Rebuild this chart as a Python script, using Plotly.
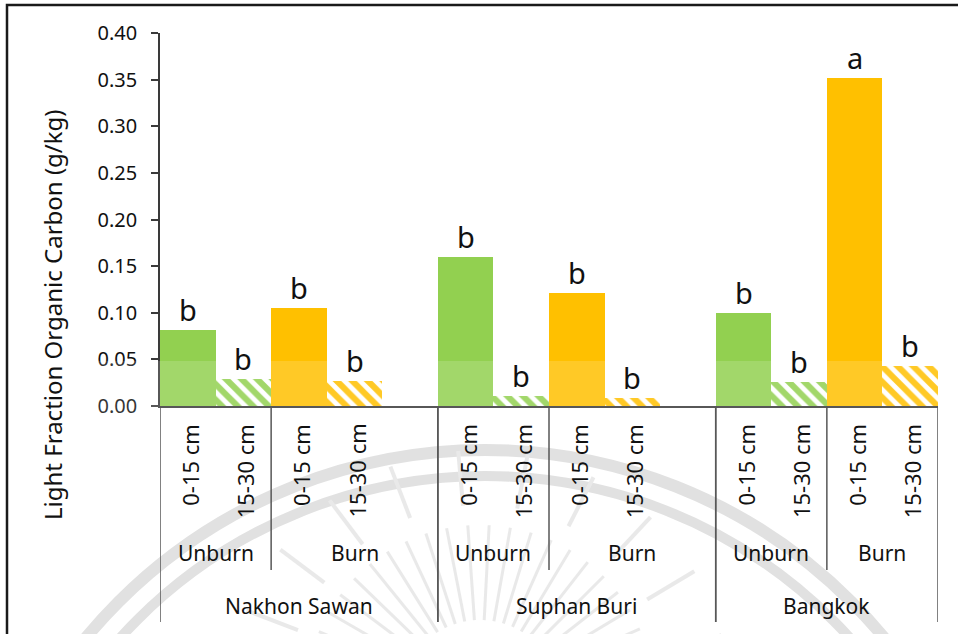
import numpy as np
import plotly.graph_objects as go

# ---------------- data ----------------
locations = ["Nakhon Sawan", "Suphan Buri", "Bangkok"]
treatments = ["Unburn", "Burn"]
depths = ["0-15 cm", "15-30 cm"]

unburn_0_15 = [0.081, 0.160, 0.100]
unburn_15_30 = [0.029, 0.011, 0.026]
burn_0_15 = [0.105, 0.121, 0.352]
burn_15_30 = [0.027, 0.009, 0.043]

letters_unburn_0_15 = ["b", "b", "b"]
letters_unburn_15_30 = ["b", "b", "b"]
letters_burn_0_15 = ["b", "b", "a"]
letters_burn_15_30 = ["b", "b", "b"]

y_ticks = [0.00, 0.05, 0.10, 0.15, 0.20, 0.25, 0.30, 0.35, 0.40]
y_title = "Light Fraction Organic Carbon (g/kg)"

# ---------------- styling / geometry ----------------
GREEN = "#92D050"
ORANGE = "#FFC000"
LINE = "#3a3a3a"
TXT = "#111111"
FONT = "Noto Sans"

W, H = 958, 634
ML, MR, MT, MB = 160, 20, 33, 228
PW, PH = W - ML - MR, H - MT - MB
Y0PX = MT + PH


def pxx(p):
    return (p - ML) / PW


def pxy(p):
    return (Y0PX - p) / PH


GROUP = 5  # 4 bars + 1 blank category per location


def pos(loc, trt, dep):
    return loc * GROUP + trt * 2 + dep


series = [
    (0, 0, unburn_0_15, letters_unburn_0_15, GREEN, False),
    (0, 1, unburn_15_30, letters_unburn_15_30, GREEN, True),
    (1, 0, burn_0_15, letters_burn_0_15, ORANGE, False),
    (1, 1, burn_15_30, letters_burn_15_30, ORANGE, True),
]

fig = go.Figure()
annotations = []
shapes = []

for trt, dep, vals, lets, col, hatched in series:
    xs = [pos(i, trt, dep) for i in range(len(locations))]
    if hatched:
        marker = dict(color="white", line=dict(width=0),
                      pattern=dict(shape="\\", fgcolor=col, bgcolor="white",
                                   fgopacity=1, size=11, solidity=0.55,
                                   fillmode="replace"))
    else:
        marker = dict(color=col, line=dict(width=0))
    fig.add_trace(go.Bar(x=xs, y=vals, width=1.0, marker=marker,
                         showlegend=False, hoverinfo="skip"))
    for x, v, l in zip(xs, vals, lets):
        annotations.append(dict(x=x, y=v, xref="x", yref="y", text=l,
                                showarrow=False, yanchor="bottom", yshift=-1,
                                font=dict(family=FONT, size=29, color=TXT)))

# ---------------- watermark (behind) ----------------
wm = "rgb(220,220,220)"
cx, cy = 485, 968
for r, w in [(518, 12), (492, 10)]:
    shapes.append(dict(type="circle", xref="paper", yref="paper",
                       xsizemode="pixel", ysizemode="pixel",
                       xanchor=pxx(cx), yanchor=pxy(cy),
                       x0=-r, x1=r, y0=-r, y1=r,
                       line=dict(color=wm, width=w), layer="below"))
rcx, rcy = 480, 700
wm2 = "rgb(230,230,230)"
for ang in np.arange(24, 158, 7):
    a = np.deg2rad(ang)
    r1, r2 = 80, 175
    shapes.append(dict(type="line", xref="paper", yref="paper",
                       x0=pxx(rcx + r1 * np.cos(a)), y0=pxy(rcy - r1 * np.sin(a)),
                       x1=pxx(rcx + r2 * np.cos(a)), y1=pxy(rcy - r2 * np.sin(a)),
                       line=dict(color=wm2, width=3), layer="below"))
for ang in np.arange(15, 170, 16):
    a = np.deg2rad(ang)
    r1, r2 = 195, 250
    shapes.append(dict(type="line", xref="paper", yref="paper",
                       x0=pxx(rcx + r1 * np.cos(a)), y0=pxy(rcy - r1 * np.sin(a)),
                       x1=pxx(rcx + r2 * np.cos(a)), y1=pxy(rcy - r2 * np.sin(a)),
                       line=dict(color=wm2, width=4), layer="below"))

# ---------------- multi-level category axis ----------------
for li, loc in enumerate(locations):
    base = li * GROUP
    for ti, trt in enumerate(treatments):
        for di, dep in enumerate(depths):
            annotations.append(dict(x=pos(li, ti, di), y=pxy(422), xref="x", yref="paper",
                                    text=dep, textangle=-90, showarrow=False,
                                    xanchor="center", yanchor="top", xshift=2,
                                    font=dict(family=FONT, size=22, color=TXT)))
        start = base + ti * 2 - 0.5
        end = start + 2 if (ti == 0 or li == len(locations) - 1) else start + 3
        annotations.append(dict(x=(start + end) / 2, y=pxy(553), xref="x", yref="paper",
                                text=trt, showarrow=False, yanchor="middle",
                                font=dict(family=FONT, size=21, color=TXT)))
    lstart = base - 0.5
    lend = min(base + GROUP - 0.5, len(locations) * GROUP - 1.5)
    annotations.append(dict(x=(lstart + lend) / 2, y=pxy(606), xref="x", yref="paper",
                            text=loc, showarrow=False, yanchor="middle",
                            font=dict(family=FONT, size=21, color=TXT)))
    # treatment divider
    shapes.append(dict(type="line", xref="x", yref="paper", x0=base + 1.5, x1=base + 1.5,
                       y0=0, y1=pxy(570), line=dict(color=LINE, width=1.5)))
    # location borders
    for bx in (lstart, lend):
        shapes.append(dict(type="line", xref="x", yref="paper", x0=bx, x1=bx,
                           y0=0, y1=pxy(622), line=dict(color=LINE, width=1.5)))

# y axis title
annotations.append(dict(x=pxx(52), y=pxy(315), xref="paper", yref="paper", text=y_title,
                        textangle=-90, showarrow=False, xanchor="center", yanchor="middle",
                        font=dict(family=FONT, size=24, color=TXT)))

# watermark light band (above bars)
shapes.append(dict(type="rect", xref="paper", yref="paper", x0=pxx(8), x1=pxx(970),
                   y0=pxy(361), y1=pxy(650), fillcolor="rgba(255,255,255,0.15)",
                   line=dict(width=0), layer="above"))

# outer frame
shapes.append(dict(type="path", xref="paper", yref="paper",
                   path=f"M {pxx(7)} {pxy(700)} L {pxx(7)} {pxy(5)} L {pxx(1000)} {pxy(5)}",
                   line=dict(color="#1a1a1a", width=2.5)))

fig.update_layout(
    width=W, height=H,
    margin=dict(l=ML, r=MR, t=MT, b=MB),
    paper_bgcolor="white", plot_bgcolor="white",
    barmode="overlay", bargap=0,
    showlegend=False,
    annotations=annotations,
    shapes=shapes,
    xaxis=dict(range=[-0.5, len(locations) * GROUP - 1.5], showticklabels=False,
               showgrid=False, zeroline=False, ticks="", showline=True,
               linecolor=LINE, linewidth=1.5, fixedrange=True),
    yaxis=dict(range=[0, 0.4], tickvals=y_ticks, tickformat=".2f",
               showgrid=False, zeroline=False, showline=True, linecolor=LINE,
               linewidth=1.5, ticks="outside", ticklen=7, tickcolor=LINE,
               tickwidth=1.5, ticklabelstandoff=10,
               tickfont=dict(family=FONT, size=20, color=TXT), fixedrange=True),
)

fig.write_html("out.html", config={"displayModeBar": False},
               post_script="document.body.style.margin='0';document.body.style.padding='0';")
